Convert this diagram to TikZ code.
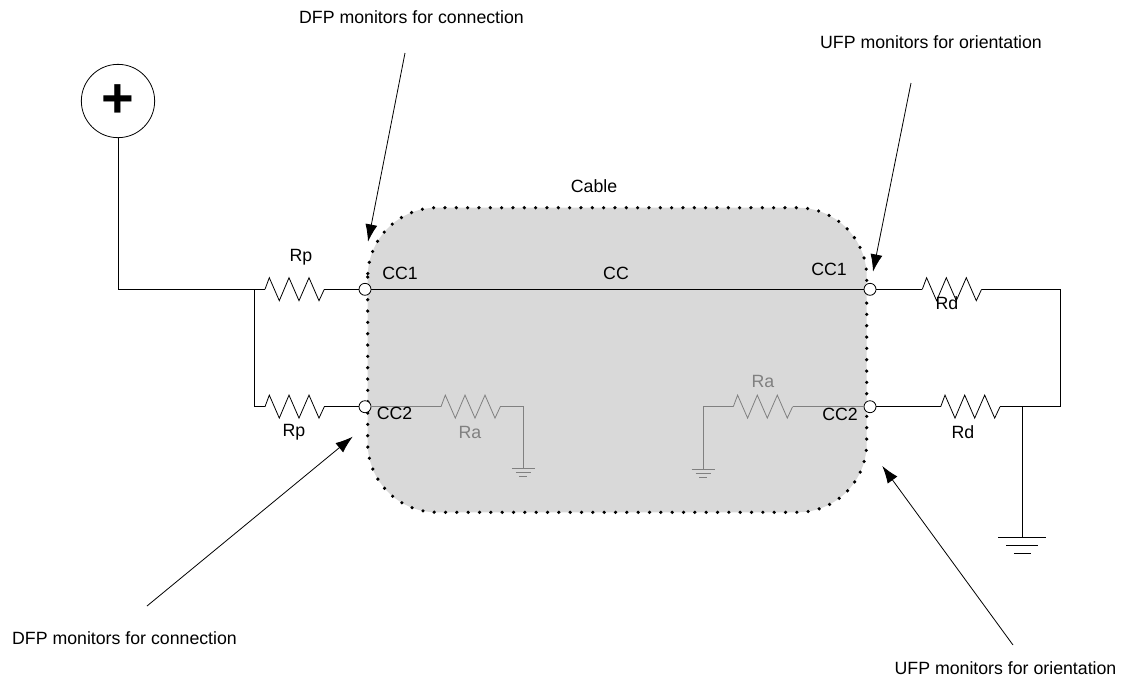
\documentclass[tikz,border=0pt]{standalone}
\usepackage{fontspec}
\setmainfont{Liberation Sans}
\usetikzlibrary{arrows.meta}
\definecolor{cablegray}{rgb}{0.85,0.85,0.85}
\definecolor{wiregray}{rgb}{0.5,0.5,0.5}
\tikzset{
	x=0.75pt,y=-0.75pt,
	wire/.style={line width=0.6pt,color=black},
	callout/.style={line width=0.6pt,-{Latex[length=13pt,width=9pt]}},
	portdot/.style={circle,draw=black,fill=white,line width=0.6pt,inner sep=0pt,minimum size=9pt},
	lbl/.style={font=\fontsize{13.3}{15}\selectfont,inner sep=0pt},
	resistor/.pic={
		\draw (0,0) -- (4.3,-11.6) -- (14.3,11.4) -- (24,-11.6) -- (34,11.4) -- (44,-11.6) -- (54,11.4) -- (59.3,0);
		\coordinate (-in) at (0,0);
		\coordinate (-out) at (59.3,0);
	},
	groundsmall/.pic={
		\draw (-11.5,0) -- (11.5,0);
		\draw (-7.5,4) -- (7.5,4);
		\draw (-4,8) -- (4,8);
		\coordinate (-top) at (0,0);
	},
	groundbig/.pic={
		\draw (-24,0) -- (24,0);
		\draw (-16,8) -- (16,8);
		\draw (-8.5,15.6) -- (8.5,15.6);
		\coordinate (-top) at (0,0);
	}
}
\begin{document}
\begin{tikzpicture}
	\useasboundingbox (0,0) rectangle (1132,683);
	% cable
	\fill[cablegray,rounded corners=52pt] (367.7,207.7) rectangle (866.7,512.3);
	\draw[line width=2.7pt,line cap=round,dash pattern=on 0pt off 8.5pt,rounded corners=52pt] (367.7,207.7) rectangle (866.7,512.3);
	% ports
	\node[portdot] (ccOneL) at (365,289.3) {};
	\node[portdot] (ccTwoL) at (365,406.7) {};
	\node[portdot] (ccOneR) at (870,289.3) {};
	\node[portdot] (ccTwoR) at (870,406.7) {};
	% supply
	\node[circle,draw,wire,minimum size=55pt,inner sep=0pt,font=\fontsize{42}{42}\selectfont\bfseries] (vplus) at (118,101) {\raisebox{-1.5pt}{+}};
	\coordinate (split) at (254.5,289.3);
	\coordinate (corner) at (118,289.3);
	\draw[wire] (vplus) -- (corner) -- (split);
	\begin{scope}[wire]
		\pic (rpone) at (265,289.3) {resistor};
		\pic (rptwo) at (265,406.7) {resistor};
		\pic (rdone) at (922.3,289.3) {resistor};
		\pic (rdtwo) at (940.7,406.7) {resistor};
		\pic (gndr) at (1022.3,537.7) {groundbig};
	\end{scope}
	\begin{scope}[wire,color=wiregray]
		\pic (raleft) at (441,406.7) {resistor};
		\pic (raright) at (733.3,406.7) {resistor};
		\pic (gndl) at (523.3,468) {groundsmall};
		\pic (gndm) at (703,469.3) {groundsmall};
	\end{scope}
	\coordinate (rightbus) at (1060.3,289.3);
	\coordinate (rightlow) at (1060.3,406.7);
	\coordinate (tap) at (1022.3,406.7);
	\coordinate (leftlow) at (254.5,406.7);
	\coordinate (raleftend) at (523.3,406.7);
	\coordinate (rarightend) at (703,406.7);
	\draw[wire] (split) -- (rpone-in);
	\draw[wire] (rpone-out) -- (ccOneL);
	\draw[wire] (split) -- (leftlow) -- (rptwo-in);
	\draw[wire] (rptwo-out) -- (ccTwoL);
	\draw[wire] (ccOneL) -- (ccOneR);
	\draw[wire] (ccOneR) -- (rdone-in);
	\draw[wire] (rdone-out) -- (rightbus) -- (rightlow) -- (rdtwo-out);
	\draw[wire] (ccTwoR) -- (rdtwo-in);
	\draw[wire] (tap) -- (gndr-top);
	\draw[wire,color=wiregray] (ccTwoL) -- (raleft-in);
	\draw[wire,color=wiregray] (raleft-out) -- (raleftend) -- (gndl-top);
	\draw[wire,color=wiregray] (ccTwoR) -- (raright-out);
	\draw[wire,color=wiregray] (raright-in) -- (rarightend) -- (gndm-top);
	% labels
	\node[lbl] (cablelbl) at (594,186) {Cable};
	\node[lbl] (cclbl) at (616,273) {CC};
	\node[lbl] (rponelbl) at (301,257) {Rp};
	\node[lbl] (rptwolbl) at (294,432) {Rp};
	\node[lbl] (rdonelbl) at (947,303) {Rd};
	\node[lbl] (rdtwolbl) at (963,432) {Rd};
	\node[lbl,color=wiregray] (raleftlbl) at (470,432) {Ra};
	\node[lbl,color=wiregray] (rarightlbl) at (763,381) {Ra};
	\node[lbl] (cconeLlbl) at (400,273) {CC1};
	\node[lbl] (cctwoLlbl) at (394.5,413) {CC2};
	\node[lbl] (cconeRlbl) at (829,269) {CC1};
	\node[lbl] (cctwoRlbl) at (840,414) {CC2};
	\node[lbl] (dfptop) at (411.5,17) {DFP monitors for connection};
	\node[lbl] (ufptop) at (931,42) {UFP monitors for orientation};
	\node[lbl] (dfplow) at (124.5,638) {DFP monitors for connection};
	\node[lbl] (ufplow) at (1005.5,668) {UFP monitors for orientation};
	% callouts
	\coordinate (dfptopa) at (405,53);
	\coordinate (dfptopb) at (368,241.7);
	\coordinate (ufptopa) at (911,83);
	\coordinate (ufptopb) at (873,271.7);
	\coordinate (dfplowa) at (147,606);
	\coordinate (dfplowb) at (352.7,436.7);
	\coordinate (ufplowa) at (1013,645);
	\coordinate (ufplowb) at (882.3,466);
	\draw[callout] (dfptopa) -- (dfptopb);
	\draw[callout] (ufptopa) -- (ufptopb);
	\draw[callout] (dfplowa) -- (dfplowb);
	\draw[callout] (ufplowa) -- (ufplowb);
\end{tikzpicture}
\end{document}
